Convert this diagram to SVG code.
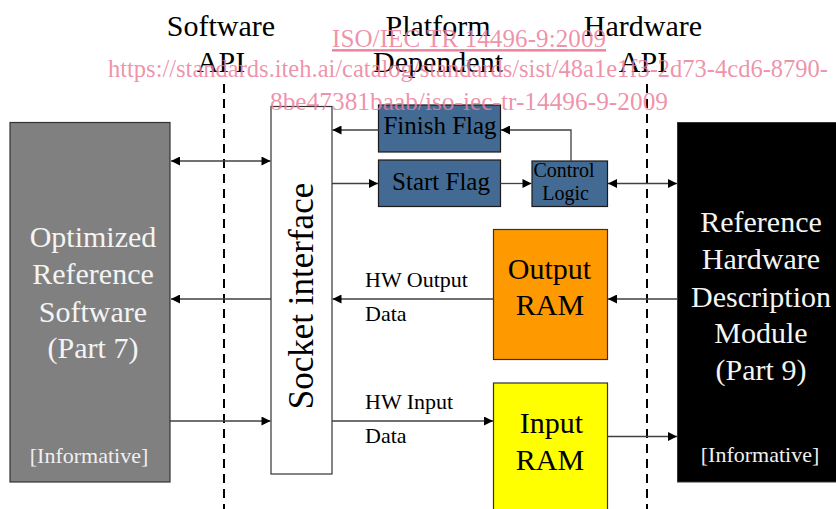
<svg xmlns="http://www.w3.org/2000/svg" width="836" height="509" viewBox="0 0 836 509">
<style>
text{font-family:"Liberation Serif","Times New Roman",serif;}
.hdr{font-size:30px;fill:#000;text-anchor:middle;}
.wt{font-size:30px;fill:#f4f4f4;text-anchor:middle;}
.inf{font-size:22px;fill:#f0f0f0;text-anchor:middle;}
.bk{fill:#000;text-anchor:middle;}
.lbl{font-size:22px;fill:#000;}
.ln{stroke:#404040;stroke-width:1.3;fill:none;}
.dash{stroke:#000;stroke-width:2;stroke-dasharray:9,6;fill:none;}
.flag{fill:#436a92;stroke:#1a1a1a;stroke-width:1.2;}
.wm{font-size:25px;fill:#ec7f9c;fill-opacity:0.85;}
</style>
<defs>
<marker id="ah" viewBox="0 0 10 10" refX="10" refY="5" markerWidth="10" markerHeight="9" markerUnits="userSpaceOnUse" orient="auto-start-reverse">
<path d="M0,0 L10,5 L0,10 Z" fill="#000"/>
</marker>
</defs>
<rect width="836" height="509" fill="#fff"/>

<g id="headers">
<text class="hdr" x="221" y="36">Software</text>
<text class="hdr" x="221" y="72">API</text>
<text class="hdr" x="438" y="36">Platform</text>
<text class="hdr" x="438" y="72">Dependent</text>
<text class="hdr" x="643" y="36">Hardware</text>
<text class="hdr" x="643" y="72">API</text>
</g>

<g id="api-lines">
<line class="dash" x1="224" y1="84" x2="224" y2="509"/>
<line class="dash" x1="647" y1="84" x2="647" y2="509"/>
</g>

<g id="software">
<rect x="10" y="122.5" width="160" height="359.5" fill="#808080" stroke="#333" stroke-width="1.2"/>
<text class="wt" x="93" y="247">Optimized</text>
<text class="wt" x="93" y="284">Reference</text>
<text class="wt" x="93" y="321.5">Software</text>
<text class="wt" x="93" y="358">(Part 7)</text>
<text class="inf" x="89" y="463">[Informative]</text>
</g>

<g id="socket">
<rect x="271" y="106.5" width="61" height="367.5" fill="#fff" stroke="#333" stroke-width="1.2"/>
<text transform="translate(313,296) rotate(-90)" font-size="35" text-anchor="middle" fill="#000">Socket interface</text>
</g>

<g id="finish-flag">
<rect class="flag" x="378.5" y="105" width="122" height="47"/>
<text class="bk" x="440" y="134" font-size="25">Finish Flag</text>
</g>

<g id="start-flag">
<rect class="flag" x="378.5" y="160" width="122" height="46.5"/>
<text class="bk" x="441" y="189.5" font-size="25">Start Flag</text>
</g>

<g id="control-logic">
<rect class="flag" x="532" y="161" width="75.5" height="45.5"/>
<text class="bk" x="564" y="177" font-size="20">Control</text>
<text class="bk" x="565.5" y="199.5" font-size="20">Logic</text>
</g>

<g id="output-ram">
<rect x="493.5" y="229.5" width="114" height="130" fill="#ff9900" stroke="#333" stroke-width="1.2"/>
<text class="bk" x="549.5" y="279" font-size="30">Output</text>
<text class="bk" x="550" y="315" font-size="30">RAM</text>
</g>

<g id="input-ram">
<rect x="493.5" y="383" width="114" height="140" fill="#ffff00" stroke="#333" stroke-width="1.2"/>
<text class="bk" x="551.5" y="433" font-size="30">Input</text>
<text class="bk" x="550" y="470" font-size="30">RAM</text>
</g>

<g id="hardware">
<rect x="677.5" y="122.5" width="160" height="359.5" fill="#000" stroke="#333" stroke-width="1"/>
<text class="wt" x="761" y="232">Reference</text>
<text class="wt" x="761" y="268.5">Hardware</text>
<text class="wt" x="761" y="306.5">Description</text>
<text class="wt" x="761" y="343">Module</text>
<text class="wt" x="761" y="379.5">(Part 9)</text>
<text class="inf" x="760" y="462">[Informative]</text>
</g>

<g id="connectors">
<line class="ln" x1="171" y1="161" x2="270.5" y2="161" marker-start="url(#ah)" marker-end="url(#ah)"/>
<line class="ln" x1="271" y1="299" x2="171" y2="299" marker-end="url(#ah)"/>
<line class="ln" x1="170" y1="421" x2="270.5" y2="421" marker-end="url(#ah)"/>
<line class="ln" x1="378.5" y1="130" x2="332.5" y2="130" marker-end="url(#ah)"/>
<polyline class="ln" points="571,161 571,130 501,130" marker-end="url(#ah)"/>
<line class="ln" x1="332" y1="183.5" x2="378" y2="183.5" marker-end="url(#ah)"/>
<line class="ln" x1="500.5" y1="183.5" x2="531.5" y2="183.5" marker-end="url(#ah)"/>
<line class="ln" x1="608" y1="183.5" x2="677" y2="183.5" marker-start="url(#ah)" marker-end="url(#ah)"/>
<line class="ln" x1="493.5" y1="299" x2="332.5" y2="299" marker-end="url(#ah)"/>
<line class="ln" x1="677" y1="299" x2="608" y2="299" marker-end="url(#ah)"/>
<line class="ln" x1="332" y1="421" x2="493" y2="421" marker-end="url(#ah)"/>
<line class="ln" x1="607.5" y1="436.5" x2="677" y2="436.5" marker-end="url(#ah)"/>
</g>

<g id="edge-labels">
<text class="lbl" x="365" y="287">HW Output</text>
<text class="lbl" x="365" y="321">Data</text>
<text class="lbl" x="365" y="409">HW Input</text>
<text class="lbl" x="365" y="443">Data</text>
</g>

<g id="watermark">
<text class="wm" x="469" y="47" text-anchor="middle" textLength="274" text-decoration="underline">ISO/IEC TR 14496-9:2009</text>
<line x1="332" y1="50.5" x2="606" y2="50.5" stroke="#ec7f9c" stroke-opacity="0.85" stroke-width="1.3"/>
<text class="wm" x="108" y="77" textLength="720" lengthAdjust="spacingAndGlyphs">https://standards.iteh.ai/catalog/standards/sist/48a1e1f3-2d73-4cd6-8790-</text>
<text class="wm" x="270" y="110" textLength="398" lengthAdjust="spacingAndGlyphs">8be47381baab/iso-iec-tr-14496-9-2009</text>
</g>
</svg>
